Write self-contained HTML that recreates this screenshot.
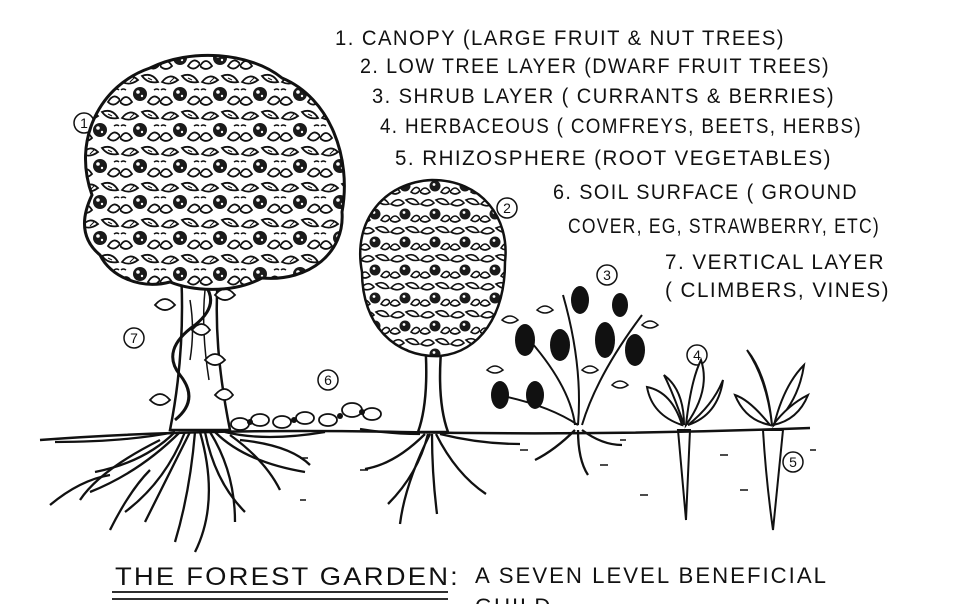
<!DOCTYPE html>
<html><head><meta charset="utf-8"><style>
html,body{margin:0;padding:0;background:#fff;width:960px;height:604px;overflow:hidden}
svg{display:block}
text{font-family:"Liberation Sans",sans-serif;fill:#111}
</style></head><body>
<svg width="960" height="604" viewBox="0 0 960 604" xmlns="http://www.w3.org/2000/svg">
<defs>
<pattern id="leaf" width="40" height="36" patternUnits="userSpaceOnUse">
<rect width="40" height="36" fill="#fff"/>
<path d="M2 10 Q10 0 18 8 Q10 14 2 10Z" fill="#fff" stroke="#111" stroke-width="1.8"/>
<path d="M22 4 Q32 0 38 10 Q28 12 22 4Z" fill="#fff" stroke="#111" stroke-width="1.8"/>
<path d="M10 10 L14 6 M28 6 L32 8" stroke="#111" stroke-width="1"/>
<circle cx="20" cy="22" r="7" fill="#1a1a1a"/>
<circle cx="18" cy="20" r="1.8" fill="#fff"/><circle cx="22" cy="24" r="1.2" fill="#fff"/>
<path d="M0 30 Q6 20 12 30 Q6 36 0 30Z" fill="#fff" stroke="#111" stroke-width="1.8"/>
<path d="M28 30 Q34 20 40 28 Q34 36 28 30Z" fill="#fff" stroke="#111" stroke-width="1.8"/>
<path d="M6 18 Q3 16 1 18 M34 18 Q37 16 39 18" stroke="#111" stroke-width="1.5" fill="none"/>
</pattern>
<pattern id="leaf2" width="30" height="28" patternUnits="userSpaceOnUse">
<rect width="30" height="28" fill="#fff"/>
<path d="M1 8 Q8 0 14 7 Q8 12 1 8Z" fill="#fff" stroke="#111" stroke-width="1.6"/>
<path d="M16 4 Q24 0 29 8 Q22 10 16 4Z" fill="#fff" stroke="#111" stroke-width="1.6"/>
<circle cx="15" cy="18" r="5.5" fill="#1a1a1a"/>
<circle cx="14" cy="16.5" r="1.4" fill="#fff"/>
<path d="M0 24 Q5 16 10 24 Q5 28 0 24Z" fill="#fff" stroke="#111" stroke-width="1.6"/>
<path d="M21 24 Q26 16 30 22 Q26 28 21 24Z" fill="#fff" stroke="#111" stroke-width="1.6"/>
</pattern>
</defs>

<g font-size="21" letter-spacing="1.5">
<text x="335" y="45" textLength="450" lengthAdjust="spacingAndGlyphs">1. CANOPY (LARGE FRUIT &amp; NUT TREES)</text>
<text x="360" y="73" textLength="470" lengthAdjust="spacingAndGlyphs">2. LOW TREE LAYER (DWARF FRUIT TREES)</text>
<text x="372" y="103" textLength="463" lengthAdjust="spacingAndGlyphs">3. SHRUB LAYER ( CURRANTS &amp; BERRIES)</text>
<text x="380" y="133" textLength="482" lengthAdjust="spacingAndGlyphs">4. HERBACEOUS ( COMFREYS, BEETS, HERBS)</text>
<text x="395" y="165" textLength="437" lengthAdjust="spacingAndGlyphs">5. RHIZOSPHERE (ROOT VEGETABLES)</text>
<text x="553" y="199" textLength="305" lengthAdjust="spacingAndGlyphs">6. SOIL SURFACE ( GROUND</text>
<text x="568" y="233" textLength="312" lengthAdjust="spacingAndGlyphs">COVER, EG, STRAWBERRY, ETC)</text>
<text x="665" y="269" textLength="220" lengthAdjust="spacingAndGlyphs">7. VERTICAL LAYER</text>
<text x="665" y="297" textLength="225" lengthAdjust="spacingAndGlyphs">( CLIMBERS, VINES)</text>
</g>

<g fill="none" stroke="#111" stroke-width="1.5">
<circle cx="84" cy="123" r="10"/><circle cx="507" cy="208" r="10"/><circle cx="607" cy="275" r="10"/>
<circle cx="697" cy="355" r="10"/><circle cx="793" cy="462" r="10"/><circle cx="328" cy="380" r="10"/>
<circle cx="134" cy="338" r="10"/>
</g>
<g font-size="14" text-anchor="middle">
<text x="84" y="128">1</text><text x="507" y="213">2</text><text x="607" y="280">3</text>
<text x="697" y="360">4</text><text x="793" y="467">5</text><text x="328" y="385">6</text><text x="134" y="343">7</text>
</g>

<!-- tree 1 trunk -->
<path d="M180 255 C185 320 180 380 170 430 L230 430 C220 380 212 320 220 255 Z" fill="#fff" stroke="#111" stroke-width="2.5"/>
<path d="M190 300 q5 30 0 60 M205 290 q-4 40 4 90" stroke="#111" fill="none" stroke-width="1.5"/>
<path d="M175 420 q25 -20 5 -45 q-20 -25 15 -50 q25 -20 10 -40" stroke="#111" fill="none" stroke-width="3"/>
<g fill="#fff" stroke="#111" stroke-width="1.8">
<path d="M155 305 q10 -12 20 0 q-10 10 -20 0Z"/><path d="M205 360 q10 -12 20 0 q-10 10 -20 0Z"/><path d="M150 400 q10 -12 20 0 q-10 10 -20 0Z"/>
<path d="M215 295 q10 -12 20 0 q-10 10 -20 0Z"/><path d="M192 330 q10 -12 18 0 q-8 10 -18 0Z"/><path d="M215 395 q10 -12 18 0 q-8 10 -18 0Z"/>
</g>
<!-- canopy -->
<path d="M92 195 C72 140 100 85 150 68 C190 48 250 52 282 78 C330 98 352 158 342 212 C345 252 310 282 262 278 C230 295 190 290 170 282 C140 290 110 276 100 255 C82 240 80 220 92 195 Z" fill="url(#leaf)" stroke="#111" stroke-width="3"/>

<!-- tree 2 -->
<path d="M425 340 C428 380 426 410 418 432 L448 432 C440 410 438 380 442 340 Z" fill="#fff" stroke="#111" stroke-width="2.5"/>
<path d="M362 272 C352 220 385 182 432 180 C482 180 510 218 505 262 C505 315 480 352 440 356 C395 358 362 325 362 272 Z" fill="url(#leaf2)" stroke="#111" stroke-width="2.5"/>

<!-- shrub -->
<g stroke="#111" fill="none" stroke-width="2">
<path d="M575 425 q-5 -40 -50 -90 M578 425 q5 -60 -15 -130 M582 425 q15 -50 60 -110 M578 425 q-30 -20 -80 -30"/>
</g>
<g fill="#111">
<ellipse cx="525" cy="340" rx="10" ry="16"/><ellipse cx="560" cy="345" rx="10" ry="16"/><ellipse cx="605" cy="340" rx="10" ry="18"/>
<ellipse cx="635" cy="350" rx="10" ry="16"/><ellipse cx="500" cy="395" rx="9" ry="14"/><ellipse cx="535" cy="395" rx="9" ry="14"/>
<ellipse cx="580" cy="300" rx="9" ry="14"/><ellipse cx="620" cy="305" rx="8" ry="12"/>
</g>
<g fill="#fff" stroke="#111" stroke-width="1.5">
<path d="M502 320 q8 -8 16 0 q-8 6 -16 0Z"/><path d="M537 310 q8 -8 16 0 q-8 6 -16 0Z"/><path d="M582 370 q8 -8 16 0 q-8 6 -16 0Z"/>
<path d="M642 325 q8 -8 16 0 q-8 6 -16 0Z"/><path d="M487 370 q8 -8 16 0 q-8 6 -16 0Z"/><path d="M612 385 q8 -8 16 0 q-8 6 -16 0Z"/>
</g>

<!-- herbs -->
<g fill="#fff" stroke="#111" stroke-width="2">
<path d="M682 425 q-30 -10 -35 -38 q25 5 35 38 Z"/><path d="M686 425 q5 -45 15 -65 q10 30 -15 65 Z"/>
<path d="M688 425 q25 -20 35 -45 q-5 35 -35 45 Z"/><path d="M684 425 q-10 -30 -20 -50 q20 15 20 50 Z"/>
<path d="M770 425 q-20 -25 -35 -30 q10 25 35 30 Z"/><path d="M772 425 q-5 -45 -25 -75 q20 25 25 75 Z"/>
<path d="M774 425 q10 -40 30 -60 q-5 35 -30 60 Z"/><path d="M773 425 q15 -20 35 -30 q-10 25 -35 30 Z"/>
</g>
<path d="M678 430 L690 430 L686 520 Z" fill="#fff" stroke="#111" stroke-width="2"/>
<path d="M763 430 L783 430 Q778 480 773 530 Q766 480 763 430 Z" fill="#fff" stroke="#111" stroke-width="2"/>

<!-- ground cover -->
<g fill="#fff" stroke="#111" stroke-width="1.8">
<ellipse cx="240" cy="424" rx="9" ry="6"/><ellipse cx="260" cy="420" rx="9" ry="6"/><ellipse cx="282" cy="422" rx="9" ry="6"/>
<ellipse cx="305" cy="418" rx="9" ry="6"/><ellipse cx="328" cy="420" rx="9" ry="6"/><ellipse cx="352" cy="410" rx="10" ry="7"/>
<ellipse cx="372" cy="414" rx="9" ry="6"/>
</g>
<g fill="#111"><circle cx="250" cy="422" r="3"/><circle cx="294" cy="420" r="3"/><circle cx="340" cy="416" r="3"/><circle cx="362" cy="412" r="3"/></g>

<path d="M40 440 Q200 428 400 432 T810 428" stroke="#111" fill="none" stroke-width="2.5"/>
<g stroke="#111" stroke-width="1.5">
<path d="M300 458h8M360 470h8M520 450h8M600 465h8M640 495h8M720 455h8M740 490h8M620 440h6M810 450h6M300 500h6"/>
</g>
<!-- roots -->
<g stroke="#111" fill="none" stroke-width="2.3">
<path d="M175 432 q-30 30 -80 40 M175 432 q-50 10 -120 10 M185 432 q-20 50 -60 80 M195 432 q-5 60 -20 110 M205 432 q10 50 40 80 M215 432 q30 30 90 40 M225 432 q40 10 100 0 M200 432 q20 70 -5 120 M150 470 q-20 20 -40 60 M110 475 q-30 5 -60 30"/>
<path d="M180 432 q-40 40 -90 60 M190 432 q-30 60 -45 90 M210 432 q25 40 25 90 M230 435 q35 25 50 55 M160 440 q-60 30 -80 60 M240 440 q50 5 70 25"/>
<path d="M425 434 q-30 30 -60 35 M428 434 q-10 40 -40 70 M432 434 q0 40 5 80 M436 434 q20 40 50 60 M440 434 q40 10 80 10 M420 434 q-30 0 -60 -5 M430 434 q-25 50 -30 90"/>
<path d="M575 430 q-20 20 -40 30 M578 430 q0 30 10 45 M582 430 q20 15 40 15"/>
</g>

<text x="115" y="585" font-size="25" letter-spacing="2" textLength="345" lengthAdjust="spacingAndGlyphs">THE FOREST GARDEN:</text>
<path d="M112 592 H448 M112 599 H448" stroke="#111" stroke-width="1.8"/>
<text x="475" y="583" font-size="22" letter-spacing="2" textLength="353" lengthAdjust="spacingAndGlyphs">A SEVEN LEVEL BENEFICIAL</text>
<text x="475" y="614" font-size="22" letter-spacing="2">GUILD</text>
</svg>
</body></html>
